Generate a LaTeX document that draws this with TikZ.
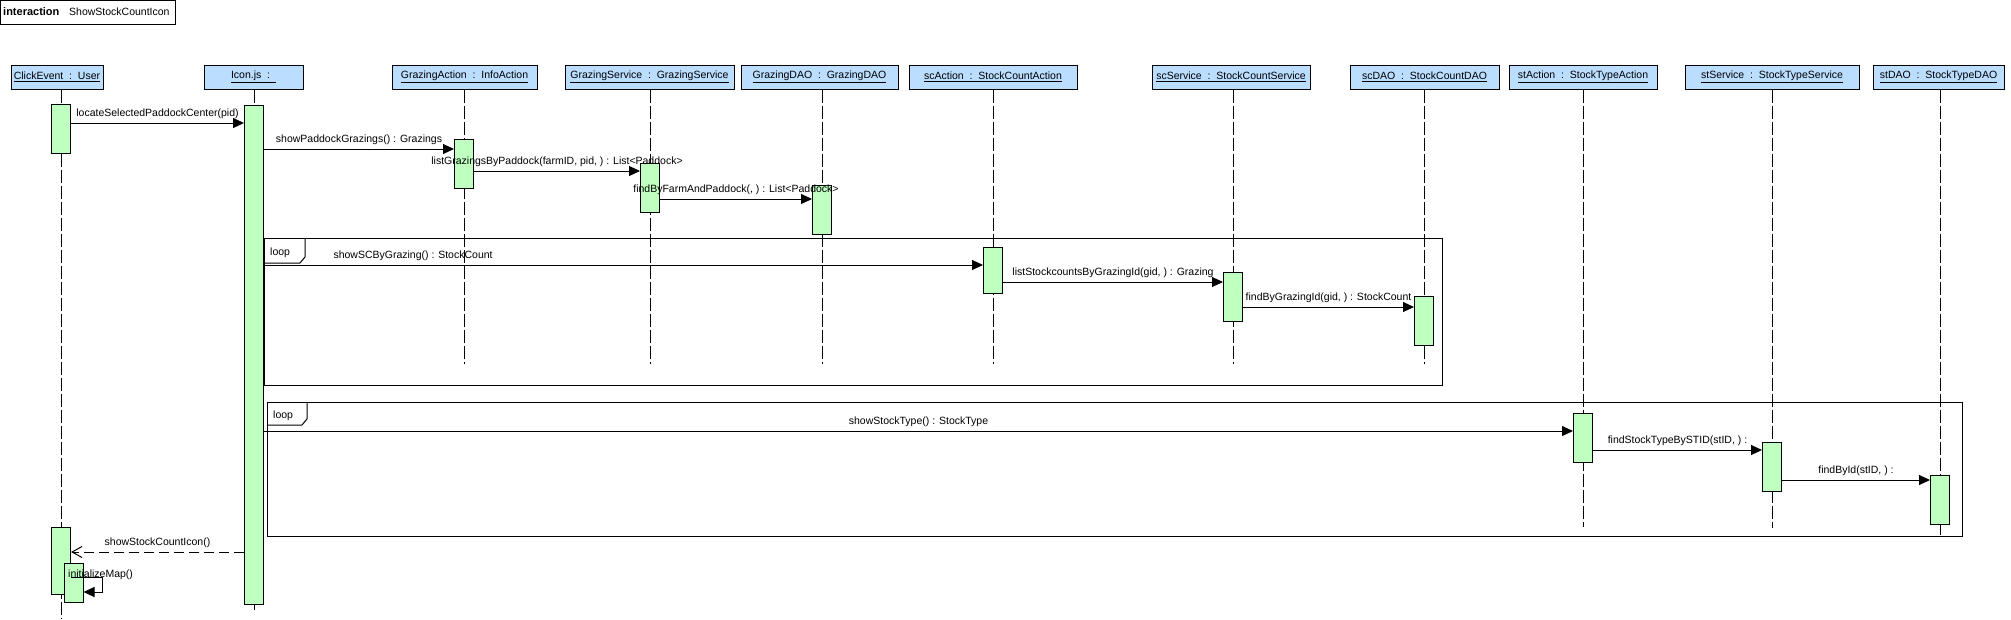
\documentclass[tikz,border=0pt]{standalone}
\usepackage{fontspec}
\setmainfont{Liberation Sans}
\usetikzlibrary{arrows.meta}
\definecolor{headblue}{RGB}{187,222,255}
\definecolor{actgreen}{RGB}{191,255,191}
\begin{document}
\begin{tikzpicture}[x=1pt,y=-1pt,
  font=\fontsize{10.5}{12}\selectfont,
  every node/.style={inner sep=0pt},
  head/.style={draw,fill=headblue,line width=1pt,minimum height=24pt},
  life/.style={line width=1pt,dash pattern=on 13pt off 3pt},
  act/.style={draw,fill=actgreen,line width=1pt,minimum width=19pt,anchor=north},
  msg/.style={line width=1pt,-{Triangle[length=11pt,width=10pt]}},
  ret/.style={line width=1pt,dash pattern=on 10pt off 5pt,-{Straight Barb[length=10pt,width=11pt]}},
  lbl/.style={midway,anchor=base,yshift=6.5pt},
  frame/.style={draw,line width=1pt,anchor=north west}]
\useasboundingbox (0,0) rectangle (2011,619);

% interaction frame
\node[frame,minimum width=175pt,minimum height=24pt] (ia) at (0,0) {};
\node[anchor=base west,font=\fontsize{11}{12}\selectfont\bfseries] (iak) at (3,15) {interaction};
\node[anchor=base west] (ian) at (69,15) {ShowStockCountIcon};

% lifeline heads
\node[head,minimum width=92pt]  (h1)  at (57,77)     {\underline{ClickEvent~~:~~User}};
\node[head,minimum width=99pt]  (h2)  at (253.5,77)  {\underline{Icon.js~~:~~}};
\node[head,minimum width=145pt] (h3)  at (464.5,77)  {\underline{GrazingAction~~:~~InfoAction}};
\node[head,minimum width=169pt] (h4)  at (649.5,77)  {\underline{GrazingService~~:~~GrazingService}};
\node[head,minimum width=157pt] (h5)  at (819.5,77)  {\underline{GrazingDAO~~:~~GrazingDAO}};
\node[head,minimum width=168pt] (h6)  at (993,77)    {\underline{scAction~~:~~StockCountAction}};
\node[head,minimum width=158pt] (h7)  at (1231,77)   {\underline{scService~~:~~StockCountService}};
\node[head,minimum width=149pt] (h8)  at (1424.5,77) {\underline{scDAO~~:~~StockCountDAO}};
\node[head,minimum width=148pt] (h9)  at (1583,77)   {\underline{stAction~~:~~StockTypeAction}};
\node[head,minimum width=174pt] (h10) at (1772,77)   {\underline{stService~~:~~StockTypeService}};
\node[head,minimum width=131pt] (h11) at (1938.5,77) {\underline{stDAO~~:~~StockTypeDAO}};

% lifeline ends
\coordinate (e1)  at (61,619);
\coordinate (e2)  at (254,610);
\coordinate (e3)  at (464,364);
\coordinate (e4)  at (650,364);
\coordinate (e5)  at (822,364);
\coordinate (e6)  at (993,364);
\coordinate (e7)  at (1233,364);
\coordinate (e8)  at (1424,364);
\coordinate (e9)  at (1583,527);
\coordinate (e10) at (1772,528);
\coordinate (e11) at (1940,536);
\foreach \i in {1,...,11} {\draw[life] (h\i.south -| e\i) -- (e\i);}

% loop frames
\node[frame,minimum width=1178pt,minimum height=147pt] (loop1) at (264,238) {};
\draw[line width=1pt] (loop1.north west) ++(0,25) -- ++(36,0) -- ++(5,-6) -- ++(0,-19);
\node[anchor=base west] (loop1t) at (270,255) {loop};
\node[frame,minimum width=1695pt,minimum height=134pt] (loop2) at (267,402) {};
\draw[line width=1pt] (loop2.north west) ++(0,23) -- ++(35,0) -- ++(5,-6) -- ++(0,-17);
\node[anchor=base west] (loop2t) at (273,418) {loop};

% activations
\node[act,minimum height=49pt]  (ce1) at (61,104)  {};
\node[act,minimum height=499pt] (ic1) at (254,105) {};
\node[act,minimum height=49pt]  (ga1) at (464,139) {};
\node[act,minimum height=49pt]  (gs1) at (650,163) {};
\node[act,minimum height=49pt]  (gd1) at (822,185) {};
\node[act,minimum height=46pt]  (sa1) at (993,247) {};
\node[act,minimum height=49pt]  (ss1) at (1233,272) {};
\node[act,minimum height=49pt]  (sd1) at (1424,296) {};
\node[act,minimum height=49pt]  (ta1) at (1583,413) {};
\node[act,minimum height=49pt]  (ts1) at (1772,442) {};
\node[act,minimum height=49pt]  (td1) at (1940,475) {};
\node[act,minimum height=67pt]  (ce2) at (61,527)  {};
\node[act,minimum height=39pt]  (ce3) at (73.5,563) {};

% messages
\draw[msg] (ce1.east |- 0,123) -- (ic1.west |- 0,123) node[lbl] {locateSelectedPaddockCenter(pid)};
\draw[msg] (ic1.east |- 0,149) -- (ga1.west |- 0,149) node[lbl] {showPaddockGrazings() : Grazings};
\draw[msg] (ga1.east |- 0,171) -- (gs1.west |- 0,171) node[lbl] {listGrazingsByPaddock(farmID, pid, ) : List<Paddock>};
\draw[msg] (gs1.east |- 0,199) -- (gd1.west |- 0,199) node[lbl] {findByFarmAndPaddock(, ) : List<Paddock>};
\draw[msg] (ic1.east |- 0,265) -- (sa1.west |- 0,265) node[pos=0,anchor=base west,yshift=6.5pt,xshift=69pt] {showSCByGrazing() : StockCount};
\draw[msg] (sa1.east |- 0,282) -- (ss1.west |- 0,282) node[lbl] {listStockcountsByGrazingId(gid, ) : Grazing};
\draw[msg] (ss1.east |- 0,307) -- (sd1.west |- 0,307) node[lbl] {findByGrazingId(gid, ) : StockCount};
\draw[msg] (ic1.east |- 0,431) -- (ta1.west |- 0,431) node[lbl] {showStockType() : StockType};
\draw[msg] (ta1.east |- 0,450) -- (ts1.west |- 0,450) node[lbl] {findStockTypeBySTID(stID, ) :};
\draw[msg] (ts1.east |- 0,480) -- (td1.west |- 0,480) node[lbl] {findById(stID, ) :};
\draw[ret] (ic1.west |- 0,552) -- (ce2.east |- 0,552) node[lbl] {showStockCountIcon()};
\draw[msg] (ce2.east |- 0,577) -| (102,592) -- (ce3.east |- 0,592);
\node[anchor=base west] (selfl) at (68,577) {initializeMap()};
\end{tikzpicture}
\end{document}
